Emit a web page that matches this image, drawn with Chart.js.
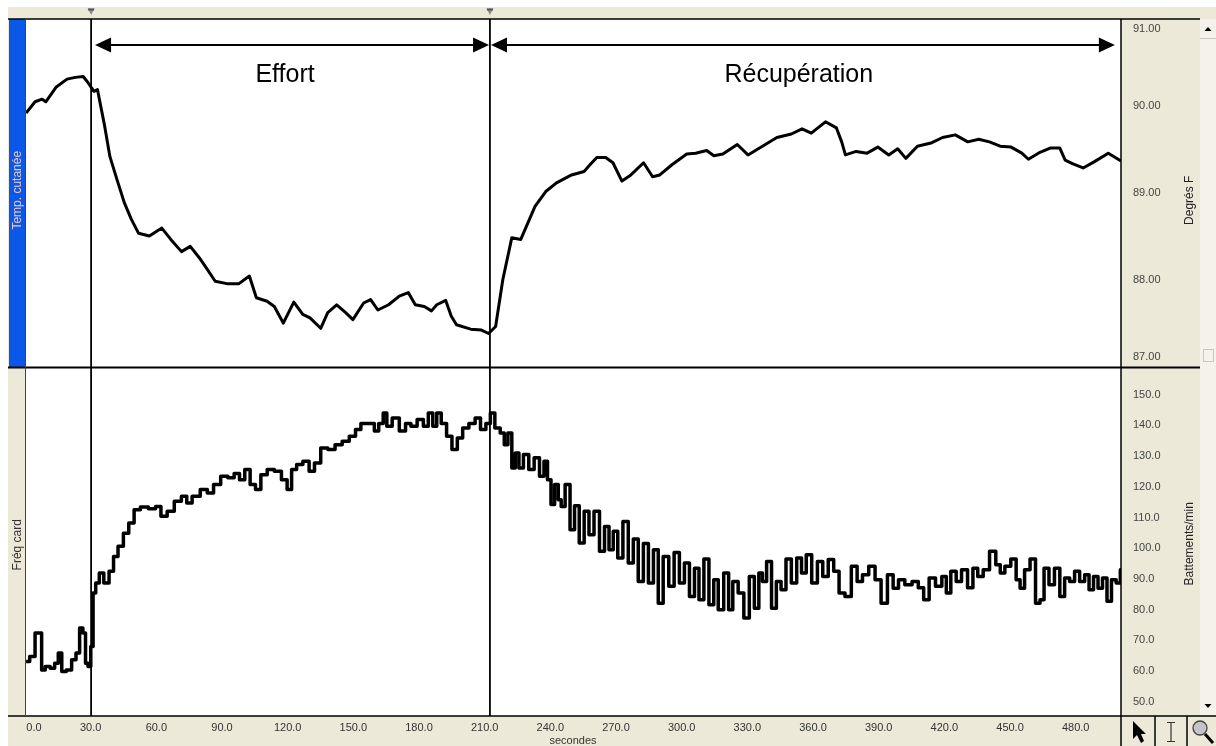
<!DOCTYPE html>
<html><head><meta charset="utf-8">
<script src="https://cdn.jsdelivr.net/npm/chart.js@4"></script>
<style>html,body{margin:0;padding:0;background:#fff;overflow:hidden}canvas{display:block}</style>
</head><body>
<canvas id="c" width="1216" height="746"></canvas>
<script>
// ---- data (seconds / values) ----
const tempTime = [0.5,4.6,7.8,9.5,14.3,19.2,23.0,26.6,28.5,31.5,33.1,36.4,38.8,42.1,45.4,48.6,51.9,56.8,62.5,66.6,71.5,75.5,79.6,82.9,86.9,92.7,97.6,102.5,105.7,110.6,113.9,118.0,122.8,126.9,130.2,135.1,138.3,142.4,146.5,149.8,154.7,157.9,161.2,166.1,171.0,175.1,178.3,182.4,185.7,188.1,192.2,194.7,197.1,203.6,208.5,211.8,215.0,218.3,222.4,226.5,233.0,237.9,242.8,249.7,255.4,257.9,261.2,265.3,268.6,272.7,276.8,282.6,286.7,290.0,295.7,302.3,306.4,311.4,314.7,318.8,325.4,330.3,336.9,343.5,350.1,355.0,359.2,365.7,370.7,373.1,374.8,379.7,384.7,389.6,394.6,398.7,402.4,407.7,414.3,419.2,425.0,430.7,435.7,440.6,445.5,450.5,455.4,458.4,463.7,468.6,472.7,475.2,478.5,483.4,488.4,494.9,500.7];
const tempValues = [89.92,90.05,90.08,90.05,90.22,90.31,90.33,90.34,90.28,90.17,90.19,89.77,89.42,89.15,88.89,88.70,88.54,88.51,88.60,88.47,88.33,88.39,88.26,88.14,87.99,87.96,87.96,88.05,87.80,87.76,87.70,87.51,87.75,87.61,87.57,87.45,87.63,87.72,87.63,87.55,87.74,87.78,87.66,87.72,87.82,87.86,87.72,87.70,87.65,87.72,87.77,87.59,87.49,87.44,87.43,87.39,87.47,88.01,88.49,88.47,88.85,89.02,89.12,89.21,89.25,89.32,89.41,89.41,89.35,89.14,89.21,89.35,89.19,89.21,89.33,89.45,89.46,89.49,89.43,89.45,89.56,89.44,89.54,89.64,89.68,89.74,89.69,89.82,89.75,89.59,89.44,89.48,89.46,89.53,89.44,89.51,89.40,89.54,89.58,89.64,89.67,89.59,89.62,89.59,89.54,89.53,89.46,89.39,89.47,89.52,89.52,89.38,89.34,89.29,89.36,89.46,89.37];

const hrTime = [0.5,3.8,5.4,7.0,8.2,10.3,12.7,14.4,16.0,17.6,20.1,22.5,24.1,25.8,27.1,28.2,29.4,30.7,31.5,33.1,34.8,37.2,39.6,41.3,43.7,46.2,48.6,51.1,54.3,58.4,60.9,63.3,66.6,69.8,73.1,74.7,78.0,82.1,84.5,87.8,91.0,94.3,96.8,99.2,101.6,104.1,106.5,109.0,112.3,115.5,118.8,120.7,122.9,125.3,128.6,131.0,133.5,136.7,140.0,143.3,146.5,149.8,152.2,154.7,158.8,160.4,162.8,164.5,166.1,169.4,172.6,175.1,177.5,180.8,183.2,185.3,187.3,188.9,191.4,193.8,196.3,198.7,201.2,204.4,206.9,209.3,211.8,213.4,215.9,218.3,219.6,221.6,223.2,224.8,226.5,228.9,231.4,233.8,236.3,237.9,239.5,241.1,242.8,244.4,245.5,248.0,250.0,252.1,254.3,256.6,258.7,261.2,263.7,265.8,267.8,269.7,271.9,274.4,276.8,279.0,281.3,283.7,285.9,288.3,290.3,292.8,295.4,297.7,300.2,302.3,304.8,306.9,308.9,311.4,313.5,315.8,317.6,320.8,322.1,324.6,327.0,329.8,332.0,334.4,336.1,337.7,339.9,342.2,344.3,346.5,348.8,351.4,353.7,355.8,358.0,360.8,363.2,365.7,368.2,370.7,373.1,376.1,378.9,381.4,383.8,387.1,389.6,392.6,395.4,397.8,400.3,403.6,406.9,409.3,411.8,414.3,417.6,420.1,421.7,424.2,426.6,429.1,432.1,434.0,436.5,439.0,442.3,444.7,446.4,448.9,451.8,453.8,455.4,457.9,460.4,462.9,464.5,466.6,469.0,471.6,473.9,476.0,478.5,480.5,483.1,485.1,487.1,489.2,491.2,493.3,495.3,497.4,499.6,501.2];
const hrValues = [63.1,64.8,72.4,72.4,60.4,61.5,60.9,62.6,65.9,59.9,60.4,63.7,65.9,74.0,72.4,62.6,61.5,68.0,85.4,88.7,91.9,88.7,92.5,97.3,100.6,104.9,108.2,112.5,113.4,112.8,113.6,110.4,112.0,115.3,116.9,114.7,116.9,119.1,118.0,120.7,123.4,122.9,124.3,122.3,125.6,120.7,119.1,123.9,125.6,125.0,122.3,119.1,125.6,127.2,128.3,125.0,127.7,132.6,132.1,133.7,134.8,136.4,138.6,140.6,140.6,138.1,140.6,144.0,139.7,142.4,138.1,140.6,139.7,141.9,139.7,144.0,139.7,144.0,140.6,136.4,132.1,135.9,139.1,140.6,142.4,138.6,140.6,144.0,139.1,137.5,133.7,137.5,126.1,131.0,126.1,130.5,125.6,129.4,123.4,128.3,122.3,114.2,120.7,115.8,113.6,120.7,106.0,113.8,101.7,112.0,104.4,112.0,99.0,107.1,99.5,105.5,96.8,108.7,95.2,103.0,89.2,101.5,88.7,99.5,82.1,97.3,87.6,98.6,88.7,95.2,84.3,93.5,83.2,96.5,81.6,89.7,80.0,91.9,80.0,89.2,85.4,77.3,90.8,80.5,91.9,89.2,95.7,80.5,89.2,86.5,96.5,88.7,96.8,91.9,97.9,88.7,95.7,90.8,96.3,92.5,85.4,84.3,94.1,89.2,91.4,94.1,89.7,82.1,91.4,87.0,89.7,88.1,89.2,87.1,83.2,90.3,87.6,90.8,85.4,92.5,89.2,93.0,87.1,93.5,90.8,93.0,99.0,94.6,91.9,94.1,96.5,89.7,87.0,93.0,96.5,82.1,83.2,93.5,88.1,93.5,84.3,90.3,89.2,92.5,89.2,91.4,86.5,90.8,87.0,90.3,82.7,89.7,88.7,93.0];

const xTickValues = [0,30,60,90,120,150,180,210,240,270,300,330,360,390,420,450,480];
const tempTicks = [87,88,89,90,91];
const hrTicks = [50,60,70,80,90,100,110,120,130,140,150];
const markerTimes = [30.2, 212.4];
const arrowSpans = [[32.0, 212.0], [212.9, 497.9]];
const phaseLabels = ['Effort', 'Récupération'];
const phaseLabelTimes = [118.8, 353.5];
const panelTitles = ['Temp. cutanée', 'Fréq card'];
const axisTitles = ['Degrés F', 'Battements/min'];

const BEIGE = '#ECE9D8';
const FONT = "'Liberation Sans', Arial, sans-serif";

function toPoints(xs, ys) { return xs.map((x, i) => ({x, y: ys[i]})); }

function clampLabels(scale, idx, lo, hi) {
  const items = scale.getLabelItems();
  items.forEach(it => {
    const t = it.options.translation;
    t[idx] = Math.min(Math.max(t[idx], lo), hi);
  });
}

function drawArrow(ctx, x0, x1, y) {
  const hl = 16, hh = 7.5;
  ctx.beginPath(); ctx.moveTo(x0 + hl - 2, y); ctx.lineTo(x1 - hl + 2, y); ctx.stroke();
  ctx.beginPath(); ctx.moveTo(x0, y); ctx.lineTo(x0 + hl, y - hh); ctx.lineTo(x0 + hl, y + hh); ctx.closePath(); ctx.fill();
  ctx.beginPath(); ctx.moveTo(x1, y); ctx.lineTo(x1 - hl, y - hh); ctx.lineTo(x1 - hl, y + hh); ctx.closePath(); ctx.fill();
}

function rotText(ctx, txt, x, y, font, color) {
  ctx.save(); ctx.translate(x, y); ctx.rotate(-Math.PI / 2);
  ctx.font = font; ctx.fillStyle = color; ctx.textAlign = 'center'; ctx.textBaseline = 'middle';
  ctx.fillText(txt, 0, 0); ctx.restore();
}

const frame = {
  id: 'frame',
  beforeDraw(chart) {
    const {ctx, chartArea: a, scales} = chart;
    const W = chart.width, H = chart.height;
    const y1 = scales.y1;
    ctx.save();
    ctx.fillStyle = '#fff'; ctx.fillRect(0, 0, W, H);
    ctx.fillStyle = BEIGE; ctx.fillRect(8, 7, W - 8, H - 7);
    ctx.fillStyle = '#fff'; ctx.fillRect(a.left, a.top, a.right - a.left, a.bottom - a.top);
    ctx.fillStyle = '#0a58e8'; ctx.fillRect(9, y1.top, a.left - 9, y1.bottom - y1.top);
    ctx.fillStyle = '#f4f2ea'; ctx.fillRect(1200, a.top, W - 1200, a.bottom - a.top);
    ctx.restore();
    clampLabels(scales.y1, 1, y1.top + 10, y1.bottom - 11);
    clampLabels(scales.x, 0, a.left + 9, a.right - 20);
  },
  afterDraw(chart) {
    const {ctx, chartArea: a, scales} = chart;
    const W = chart.width, H = chart.height;
    const x = scales.x, y1 = scales.y1, y2 = scales.y2;
    ctx.save();
    // frame lines
    ctx.strokeStyle = '#000';
    ctx.lineWidth = 1.5;
    ctx.beginPath(); ctx.moveTo(8, a.top); ctx.lineTo(1200, a.top); ctx.stroke();
    ctx.lineWidth = 2;
    ctx.beginPath(); ctx.moveTo(8, y1.bottom); ctx.lineTo(1200, y1.bottom); ctx.stroke();
    ctx.lineWidth = 1.5;
    ctx.beginPath(); ctx.moveTo(8, a.bottom); ctx.lineTo(W, a.bottom); ctx.stroke();
    ctx.beginPath(); ctx.moveTo(a.right, a.top); ctx.lineTo(a.right, H); ctx.stroke();
    ctx.strokeStyle = '#444'; ctx.lineWidth = 1;
    ctx.beginPath(); ctx.moveTo(a.left + 0.5, a.top); ctx.lineTo(a.left + 0.5, a.bottom); ctx.stroke();
    ctx.strokeStyle = '#000'; ctx.lineWidth = 1.5;
    [1155, 1187].forEach(px => { ctx.beginPath(); ctx.moveTo(px, a.bottom); ctx.lineTo(px, H); ctx.stroke(); });

    // markers
    ctx.lineWidth = 1.8;
    markerTimes.forEach(t => {
      const px = x.getPixelForValue(t);
      ctx.strokeStyle = '#000';
      ctx.beginPath(); ctx.moveTo(px, a.top); ctx.lineTo(px, a.bottom); ctx.stroke();
      ctx.fillStyle = '#8a8a8a';
      ctx.beginPath(); ctx.moveTo(px - 3.5, 8); ctx.lineTo(px + 3.5, 8); ctx.lineTo(px, 15); ctx.closePath(); ctx.fill();
      ctx.fillStyle = '#555'; ctx.fillRect(px - 3, 9, 6, 1.5);
    });

    // arrows and phase labels
    ctx.strokeStyle = '#000'; ctx.fillStyle = '#000'; ctx.lineWidth = 1.8;
    const ay = a.top + 26;
    arrowSpans.forEach(s => drawArrow(ctx, x.getPixelForValue(s[0]), x.getPixelForValue(s[1]), ay));
    ctx.font = '25px ' + FONT; ctx.textAlign = 'center'; ctx.textBaseline = 'middle';
    phaseLabels.forEach((txt, i) => ctx.fillText(txt, x.getPixelForValue(phaseLabelTimes[i]), a.top + 56));

    // panel and axis titles
    rotText(ctx, panelTitles[0], 17.5, (y1.top + y1.bottom) / 2 - 3, '12px ' + FONT, '#f2c6c6');
    rotText(ctx, panelTitles[1], 17.5, (y2.top + y2.bottom) / 2 + 3, '12px ' + FONT, '#333');
    rotText(ctx, axisTitles[0], 1190, (y1.top + y1.bottom) / 2 + 7, '12px ' + FONT, '#222');
    rotText(ctx, axisTitles[1], 1190, (y2.top + y2.bottom) / 2 + 2, '12px ' + FONT, '#222');

    // scrollbar arrows
    ctx.fillStyle = '#000';
    ctx.beginPath(); ctx.moveTo(1204.5, 31); ctx.lineTo(1211.5, 31); ctx.lineTo(1208, 27); ctx.closePath(); ctx.fill();
    ctx.beginPath(); ctx.moveTo(1204.5, 704); ctx.lineTo(1211.5, 704); ctx.lineTo(1208, 708); ctx.closePath(); ctx.fill();
    ctx.strokeStyle = '#c9c7ba'; ctx.lineWidth = 1;
    ctx.beginPath(); ctx.moveTo(1200, 38.5); ctx.lineTo(W, 38.5); ctx.stroke();
    ctx.strokeRect(1203.5, 349.5, 10, 12);

    // tool icons
    ctx.fillStyle = '#000';
    const cx = 1133, cy = 721;
    ctx.beginPath();
    ctx.moveTo(cx, cy); ctx.lineTo(cx, cy + 18); ctx.lineTo(cx + 4, cy + 14); ctx.lineTo(cx + 8, cy + 22);
    ctx.lineTo(cx + 11, cy + 20); ctx.lineTo(cx + 8, cy + 13); ctx.lineTo(cx + 13, cy + 13); ctx.closePath(); ctx.fill();
    ctx.strokeStyle = '#333'; ctx.lineWidth = 1.2;
    ctx.beginPath();
    ctx.moveTo(1171, 723); ctx.lineTo(1171, 741);
    ctx.moveTo(1167, 722.5); ctx.lineTo(1175, 722.5);
    ctx.moveTo(1167, 741.5); ctx.lineTo(1175, 741.5);
    ctx.stroke();
    ctx.fillStyle = '#c4c4c8'; ctx.strokeStyle = '#444'; ctx.lineWidth = 1.3;
    ctx.beginPath(); ctx.arc(1200, 728, 7, 0, Math.PI * 2); ctx.fill(); ctx.stroke();
    ctx.strokeStyle = '#000'; ctx.lineWidth = 3;
    ctx.beginPath(); ctx.moveTo(1205, 734); ctx.lineTo(1213, 743); ctx.stroke();
    ctx.restore();
  }
};

new Chart(document.getElementById('c'), {
  type: 'line',
  data: {
    datasets: [
      {label: 'Temp. cutanée', data: toPoints(tempTime, tempValues), yAxisID: 'y1',
       borderColor: '#000', borderWidth: 3, pointRadius: 0, tension: 0, fill: false,
       borderJoinStyle: 'round'},
      {label: 'Fréq card', data: toPoints(hrTime, hrValues), yAxisID: 'y2',
       borderColor: '#000', borderWidth: 3.5, pointRadius: 0, stepped: 'middle', fill: false,
       borderJoinStyle: 'round'}
    ]
  },
  options: {
    responsive: false, animation: false, devicePixelRatio: 1,
    layout: {padding: {left: 25, top: 19, right: 16, bottom: 0}},
    plugins: {legend: {display: false}, tooltip: {enabled: false}},
    scales: {
      x: {
        type: 'linear', position: 'bottom', min: 0, max: 500.7,
        afterBuildTicks: s => { s.ticks = xTickValues.map(v => ({value: v})); },
        afterFit: s => { s.height = 30; },
        grid: {display: false, drawTicks: false, tickLength: 0}, border: {display: false},
        ticks: {font: {family: FONT, size: 11}, color: '#333', padding: 5, maxRotation: 0, autoSkip: false,
                callback: v => Number(v).toFixed(1)},
        title: {display: true, text: 'secondes', font: {family: FONT, size: 11, lineHeight: 1}, color: '#333', padding: {top: 0, bottom: 0}}
      },
      y1: {
        type: 'linear', position: 'right', stack: 'panels', stackWeight: 1, min: 87, max: 91,
        afterBuildTicks: s => { s.ticks = tempTicks.map(v => ({value: v})); },
        afterFit: s => { s.width = 79; },
        grid: {display: false, drawTicks: false, tickLength: 0}, border: {display: false},
        ticks: {font: {family: FONT, size: 11}, color: '#444', padding: 12, crossAlign: 'near',
                callback: v => Number(v).toFixed(2)}
      },
      y2: {
        type: 'linear', position: 'right', stack: 'panels', stackWeight: 1, min: 45.4, max: 158.8,
        afterBuildTicks: s => { s.ticks = hrTicks.map(v => ({value: v})); },
        afterFit: s => { s.width = 79; },
        grid: {display: false, drawTicks: false, tickLength: 0}, border: {display: false},
        ticks: {font: {family: FONT, size: 11}, color: '#444', padding: 12, crossAlign: 'near',
                callback: v => Number(v).toFixed(1)}
      }
    }
  },
  plugins: [frame]
});
</script>
</body></html>
